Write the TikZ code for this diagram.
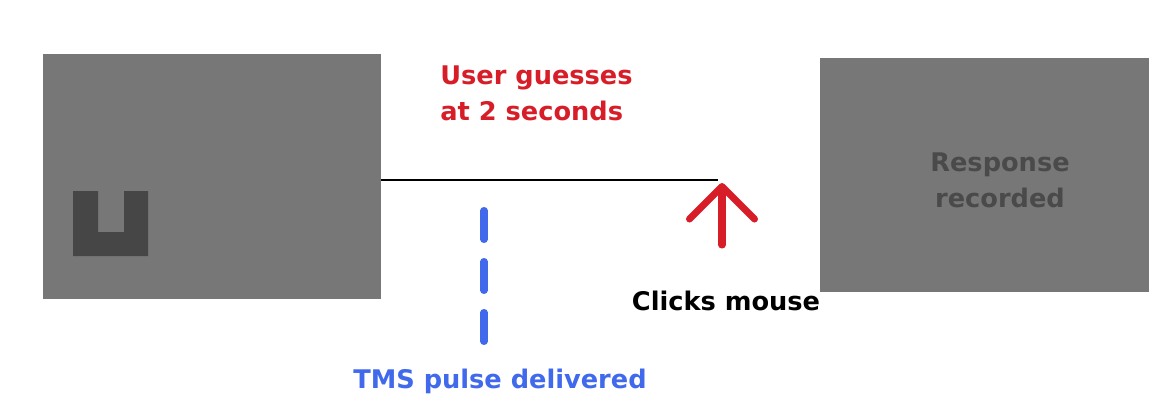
\documentclass[tikz,border=0pt]{standalone}
\usepackage{fontspec}
\setmainfont{DejaVu Sans}
\usetikzlibrary{arrows.meta}

\definecolor{screengray}{RGB}{119,119,119}
\definecolor{cuegray}{RGB}{70,70,70}
\definecolor{resptext}{RGB}{74,74,74}
\definecolor{guessred}{RGB}{215,30,40}
\definecolor{pulseblue}{RGB}{65,105,235}

\begin{document}
\begin{tikzpicture}[x=0.02cm,y=-0.02cm]

                \tikzset{screen/.style = {shape=rectangle,fill=screengray,inner sep=0pt}}
                \tikzset{label/.style = {font=\bfseries\fontsize{14.6}{20.5}\selectfont,inner sep=0pt}}
                \tikzset{click/.style = {guessred,line width=4pt,line cap=round,
                        -{Straight Barb[length=6.5mm,width=13mm,round]}}}
                \tikzset{pulse/.style = {pulseblue,line width=4pt,line cap=round,
                        dash pattern=on 0.58cm off 0.44cm}}

                \useasboundingbox (0,0) rectangle (1149,402);

                % screens
                \node[screen,minimum width=6.76cm,minimum height=4.9cm] (stim) at (212,176.5) {};
                \node[screen,minimum width=6.58cm,minimum height=4.68cm] (resp) at (984.5,175) {};
                \node[label,text=resptext,align=center] (resplabel) at (1000,180) {Response\\recorded};

                % cue
                \fill[cuegray] (73,191) -- (98,191) -- (98,232) -- (124,232) -- (124,191)
                        -- (148,191) -- (148,256) -- (73,256) -- cycle;

                % time line
                \coordinate (tip) at (722,183);
                \coordinate (foot) at (722,245);
                \draw[line width=1.2pt] (stim.east |- 0,180) -- (718,180);

                \node[label,text=guessred,align=left,anchor=west] (guess) at (440,93) {User guesses\\at 2 seconds};

                \draw[click] (foot) -- (tip);
                \node[label] (mouse) at (726,301) {Clicks mouse};

                \coordinate (pulsetop) at (484,210.5);
                \coordinate (pulsebot) at (484,341.5);
                \draw[pulse] (pulsetop) -- (pulsebot);
                \node[label,text=pulseblue] (tms) at (500,381) {TMS pulse delivered};
            \end{tikzpicture}
\end{document}
